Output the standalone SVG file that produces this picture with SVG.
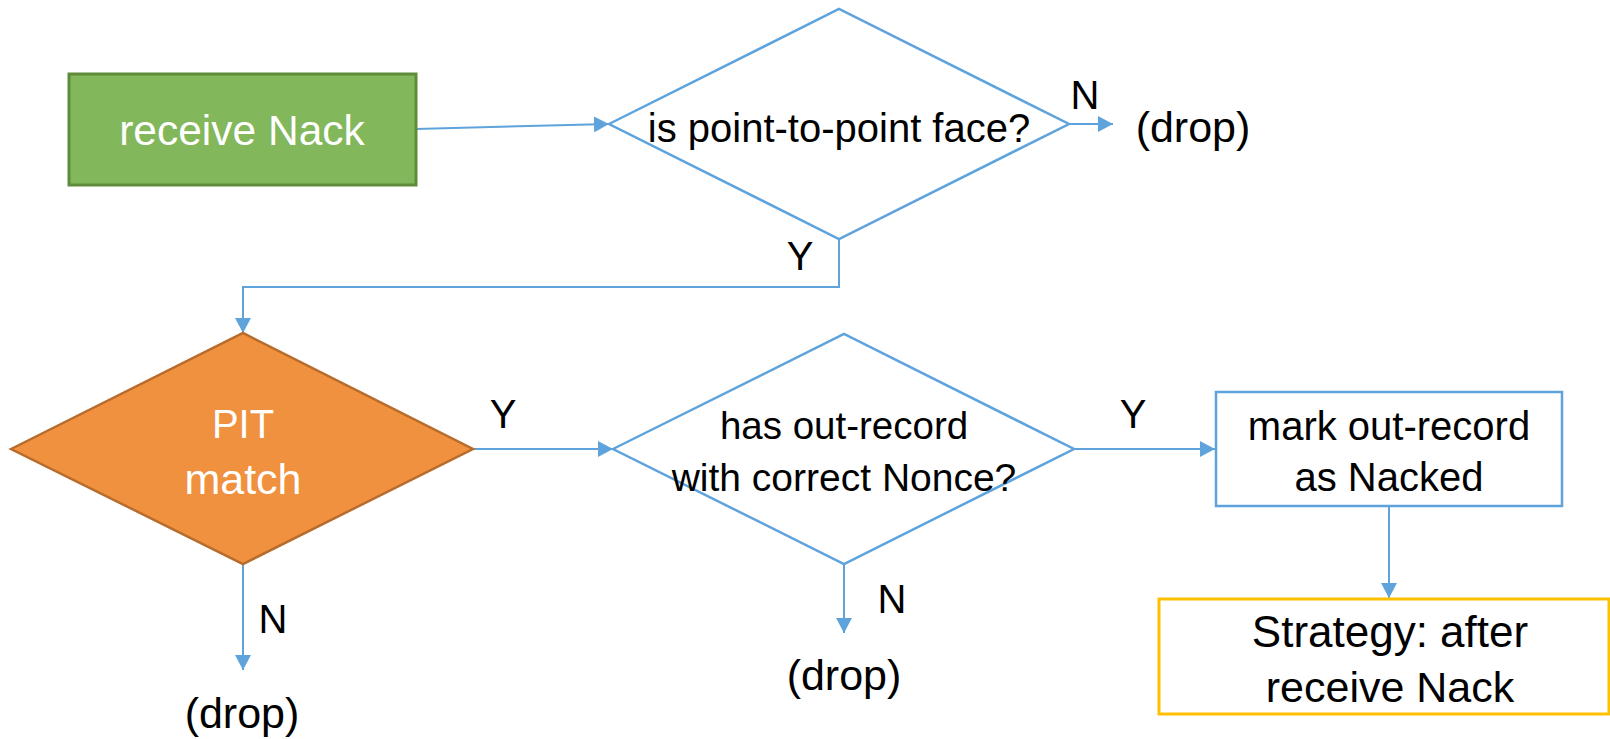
<svg xmlns="http://www.w3.org/2000/svg" width="1610" height="739" viewBox="0 0 1610 739">
<style>
  text { font-family: "Liberation Sans", Arial, sans-serif; text-anchor: middle; fill: #000; }
  .w { fill: #fff; }
  .conn { fill: none; stroke: #5FA3DC; stroke-width: 2; }
  .dia { fill: #fff; stroke: #5FA3DC; stroke-width: 2.5; }
</style>
<defs>
  <marker id="arr" markerUnits="userSpaceOnUse" markerWidth="16" markerHeight="16" refX="15" refY="8" orient="auto">
    <path d="M0,0 L15,8 L0,16 z" fill="#5FA3DC"/>
  </marker>
</defs>
<rect width="1610" height="739" fill="#fff"/>

<g id="connectors">
  <path class="conn" d="M416,129 L609,124" marker-end="url(#arr)"/>
  <path class="conn" d="M1069,124 L1113,124" marker-end="url(#arr)"/>
  <path class="conn" d="M839,239 L839,287 L243,287 L243,333" marker-end="url(#arr)"/>
  <path class="conn" d="M473,449 L613,449" marker-end="url(#arr)"/>
  <path class="conn" d="M243,564 L243,670" marker-end="url(#arr)"/>
  <path class="conn" d="M1074,449 L1215,449" marker-end="url(#arr)"/>
  <path class="conn" d="M844,564 L844,633" marker-end="url(#arr)"/>
  <path class="conn" d="M1389,507 L1389,598" marker-end="url(#arr)"/>
</g>

<g id="receive-nack">
  <rect x="69" y="74" width="347" height="111" fill="#82B75B" stroke="#5E8C3A" stroke-width="3"/>
  <text class="w" x="242" y="145" font-size="42.5">receive Nack</text>
</g>

<g id="p2p-decision">
  <polygon class="dia" points="609,124 839,9 1069,124 839,239"/>
  <text x="839" y="142" font-size="40">is point-to-point face?</text>
</g>

<g id="drop1">
  <text x="1193" y="142" font-size="43">(drop)</text>
</g>

<g id="pit-match">
  <polygon points="11,449 243,333 473,449 243,564" fill="#F0913F" stroke="#B86C2C" stroke-width="2.5"/>
  <text class="w" x="243" y="438" font-size="40">PIT</text>
  <text class="w" x="243" y="494" font-size="43">match</text>
</g>

<g id="drop2">
  <text x="242" y="728" font-size="43">(drop)</text>
</g>

<g id="outrecord-decision">
  <polygon class="dia" points="613,449 844,334 1074,449 844,564"/>
  <text x="844" y="439" font-size="38.5">has out-record</text>
  <text x="844" y="491" font-size="39">with correct Nonce?</text>
</g>

<g id="drop3">
  <text x="844" y="690" font-size="43">(drop)</text>
</g>

<g id="mark-nacked">
  <rect x="1216" y="392" width="346" height="114" fill="#fff" stroke="#5FA3DC" stroke-width="2.5"/>
  <text x="1389" y="440" font-size="40">mark out-record</text>
  <text x="1389" y="491" font-size="40">as Nacked</text>
</g>

<g id="strategy">
  <rect x="1159" y="599" width="450" height="115" fill="#fff" stroke="#FFC000" stroke-width="3"/>
  <text x="1390" y="647" font-size="44">Strategy: after</text>
  <text x="1390" y="702" font-size="43">receive Nack</text>
</g>

<g id="labels">
  <text x="1085" y="109" font-size="40">N</text>
  <text x="800" y="270" font-size="40">Y</text>
  <text x="503" y="428" font-size="40">Y</text>
  <text x="1133" y="428" font-size="40">Y</text>
  <text x="273" y="633" font-size="40">N</text>
  <text x="892" y="613" font-size="40">N</text>
</g>
</svg>
